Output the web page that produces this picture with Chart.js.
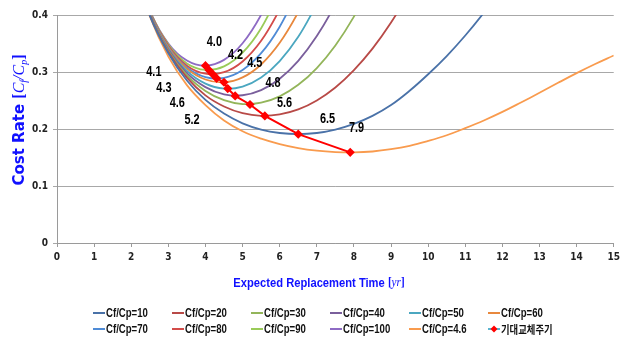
<!DOCTYPE html>
<html><head><meta charset="utf-8">
<script src="https://cdn.jsdelivr.net/npm/chart.js@4.4.1/dist/chart.umd.min.js"></script>
<style>html,body{margin:0;padding:0;background:#fff;}canvas{display:block}</style>
</head><body>
<canvas id="c" width="624" height="337"></canvas>
<script>
// ---- data ----
const xGrid = [2, 2.5, 3, 3.5, 4, 4.5, 5, 5.5, 6, 6.5, 7, 7.5, 8, 8.5, 9, 9.5, 10, 10.5, 11, 11.5, 12, 12.5, 13, 13.5, 14, 14.5, 15];
const seriesNames = ['Cf/Cp=10','Cf/Cp=20','Cf/Cp=30','Cf/Cp=40','Cf/Cp=50','Cf/Cp=60','Cf/Cp=70','Cf/Cp=80','Cf/Cp=90','Cf/Cp=100','Cf/Cp=4.6'];
const cf10  = [0.498, 0.399, 0.333, 0.285, 0.251, 0.227, 0.210, 0.199, 0.193, 0.191, 0.193, 0.199, 0.209, 0.223, 0.242, 0.267, 0.296, 0.328, 0.364, 0.404, 0.448];
const cf20  = [0.499, 0.400, 0.335, 0.290, 0.259, 0.2395, 0.2278, 0.2232, 0.2256, 0.2343, 0.2501, 0.2728, 0.3033, 0.341, 0.3868, 0.4404];
const cf30  = [0.500, 0.401, 0.337, 0.294, 0.2668, 0.2505, 0.2438, 0.2462, 0.2573, 0.2775, 0.307, 0.3466, 0.3972, 0.4585];
const cf40  = [0.501, 0.402, 0.339, 0.298, 0.2735, 0.2609, 0.2592, 0.2682, 0.2883, 0.3196, 0.363, 0.4192, 0.49];
const cf50  = [0.502, 0.403, 0.341, 0.302, 0.2796, 0.2708, 0.2743, 0.2902, 0.3191, 0.3617, 0.4187];
const cf60  = [0.503, 0.404, 0.343, 0.306, 0.2868, 0.2818, 0.2905, 0.3132, 0.3512, 0.4049, 0.47];
const cf70  = [0.504, 0.405, 0.344, 0.308, 0.2911, 0.2898, 0.3036, 0.333, 0.3795, 0.444];
const cf80  = [0.505, 0.406, 0.346, 0.311, 0.297, 0.2996, 0.3185, 0.3547, 0.4099, 0.48];
const cf90  = [0.506, 0.407, 0.348, 0.315, 0.3036, 0.3099, 0.3339, 0.3769, 0.4411];
const cf100 = [0.507, 0.408, 0.350, 0.320, 0.3111, 0.3213, 0.3504, 0.4004, 0.47];
const cf4p6 = [0.497, 0.398, 0.327, 0.277, 0.242, 0.215, 0.196, 0.183, 0.1735, 0.1665, 0.1620, 0.1596, 0.159, 0.1605, 0.1645, 0.1705, 0.179, 0.189, 0.2015, 0.215, 0.230, 0.2465, 0.2635, 0.281, 0.298, 0.314, 0.329];
// expected replacement cycle (optimum points)
const optName = '기대교체주기';
const optT = [4.0, 4.1, 4.2, 4.3, 4.5, 4.6, 4.8, 5.2, 5.6, 6.5, 7.9];
const optC = [0.311, 0.303, 0.296, 0.289, 0.282, 0.271, 0.258, 0.243, 0.223, 0.191, 0.159];
const optLabels = ['4.0','4.1','4.2','4.3','4.5','4.6','4.8','5.2','5.6','6.5','7.9'];
// label anchor positions (data space)
const labelX = [4.24, 2.61, 4.81, 2.88, 5.33, 3.24, 5.82, 3.64, 6.13, 7.29, 8.07];
const labelY = [0.353, 0.300, 0.329, 0.271, 0.315, 0.245, 0.281, 0.215, 0.245, 0.217, 0.201];
const xTicksMax = 15, yTicksMax = 0.4;

const seriesValues = [cf10, cf20, cf30, cf40, cf50, cf60, cf70, cf80, cf90, cf100, cf4p6];
const colors = ['#4A72A8','#B84A47','#93B55A','#7A5F9C','#4BA7C0','#E8883D','#4F8BD6','#D34C4A','#9ACB59','#8E6BC4','#F99B4E'];

const SANS = "'Liberation Sans',Arial,sans-serif";

const datasets = [{
  label: optName,
  data: optT.map((t, i) => ({x: t, y: optC[i]})),
  borderColor: '#FF0000', backgroundColor: '#FF0000',
  borderWidth: 2, tension: 0, pointRadius: 3.2, pointStyle: 'rectRot',
  order: 0
}];
seriesValues.forEach((vals, k) => {
  datasets.push({
    label: seriesNames[k],
    data: vals.map((v, i) => ({x: xGrid[i], y: v})),
    borderColor: colors[k], backgroundColor: colors[k],
    borderWidth: 1.8, tension: 0.4, pointRadius: 0, order: 1
  });
});

// draw text runs centred at (cx, cy), squeezed horizontally by sx
function drawRuns(ctx, runs, cx, cy, sx) {
  let total = 0;
  runs.forEach(r => { ctx.font = r.font; r.w = ctx.measureText(r.t).width; total += r.w; });
  ctx.save();
  ctx.translate(cx, cy); ctx.scale(sx, 1);
  let x = -total / 2;
  runs.forEach(r => { ctx.font = r.font; ctx.fillText(r.t, x, (r.dy || 0)); x += r.w; });
  ctx.restore();
}
function narrowText(ctx, t, x, y, sx, align) {
  ctx.save(); ctx.translate(x, y); ctx.scale(sx, 1);
  ctx.textAlign = align; ctx.fillText(t, 0, 0); ctx.restore();
}

const decor = {
  id: 'decor',
  afterDatasetsDraw(chart) {
    const ctx = chart.ctx, xs = chart.scales.x, ys = chart.scales.y;
    ctx.save();
    ctx.textBaseline = 'middle';
    // point labels
    ctx.fillStyle = '#000';
    ctx.font = 'bold 14px ' + SANS;
    optLabels.forEach((t, i) => narrowText(ctx, t, xs.getPixelForValue(labelX[i]), ys.getPixelForValue(labelY[i]), 0.78, 'center'));
    // axis titles
    ctx.fillStyle = '#1010FF';
    ctx.textAlign = 'left';
    const B = 'bold 13px ' + SANS, SI = 'italic 13px "Liberation Serif",serif', SB = 'bold 13px "Liberation Serif",serif';
    drawRuns(ctx, [{t:'Expected Replacement Time ', font:B}, {t:'[', font:SB}, {t:'yr', font:SI}, {t:']', font:SB}], 319, 283, 0.86);
    ctx.save();
    ctx.translate(20, 120); ctx.rotate(-Math.PI / 2);
    const YB = "bold 15px 'DejaVu Sans',sans-serif", YI = 'italic 16px "Liberation Serif",serif', YS = 'italic 10px "Liberation Serif",serif', YBr = 'bold 16px "Liberation Serif",serif';
    drawRuns(ctx, [{t:'Cost Rate ', font:YB}, {t:'[', font:YBr}, {t:'C', font:YI}, {t:'f', font:YS, dy:4}, {t:'/', font:YI}, {t:'C', font:YI}, {t:'p', font:YS, dy:4}, {t:']', font:YBr}], 0, 0, 1);
    ctx.restore();
    // legend
    const items = seriesNames.map((n, k) => ({name: n, color: colors[k]}));
    items.push({name: optName, color: '#FF0000', marker: true});
    items.forEach((it, i) => {
      const col = i % 6, row = Math.floor(i / 6);
      const x0 = 93 + col * 79, y = row === 0 ? 313 : 329;
      ctx.strokeStyle = it.marker ? '#5AB4D0' : it.color; ctx.lineWidth = 2;
      ctx.beginPath(); ctx.moveTo(x0, y); ctx.lineTo(x0 + 12, y); ctx.stroke();
      if (it.marker) {
        ctx.fillStyle = '#FF0000';
        ctx.beginPath(); ctx.moveTo(x0 + 6, y - 3.5); ctx.lineTo(x0 + 9.5, y); ctx.lineTo(x0 + 6, y + 3.5); ctx.lineTo(x0 + 2.5, y); ctx.closePath(); ctx.fill();
      }
      ctx.fillStyle = '#111';
      ctx.font = it.marker ? 'bold 11px "Noto Sans CJK KR",sans-serif' : 'bold 12px ' + SANS;
      narrowText(ctx, it.name, x0 + 13, y + 0.5, it.marker ? 0.85 : 0.8, 'left');
    });
    ctx.restore();
  }
};

new Chart(document.getElementById('c'), {
  type: 'line',
  data: { datasets },
  options: {
    responsive: false, animation: false, devicePixelRatio: 1,
    layout: { padding: { left: 0, right: 0, top: 15, bottom: 0 } },
    plugins: { legend: { display: false }, tooltip: { enabled: false } },
    scales: {
      x: {
        type: 'linear', min: 0, max: xTicksMax,
        ticks: { stepSize: 1, autoSkip: false, maxRotation: 0, padding: 4, color: '#222', font: { family: "'DejaVu Sans Condensed','Liberation Sans',sans-serif", size: 10, weight: 'bold' } },
        grid: { drawOnChartArea: false, color: '#9a9a9a', tickLength: 4 },
        border: { color: '#9a9a9a' },
        afterFit(s) { s.height = 94; }
      },
      y: {
        min: 0, max: yTicksMax,
        ticks: { stepSize: 0.1, padding: 5, color: '#222', font: { family: "'DejaVu Sans Condensed','Liberation Sans',sans-serif", size: 10, weight: 'bold' },
                 callback: v => v === 0 ? '0' : v.toFixed(1) },
        grid: { color: '#a8a8a8', tickLength: 4 },
        border: { color: '#9a9a9a' },
        afterFit(s) { s.width = 57; }
      }
    }
  },
  plugins: [decor]
});
</script>
</body></html>
